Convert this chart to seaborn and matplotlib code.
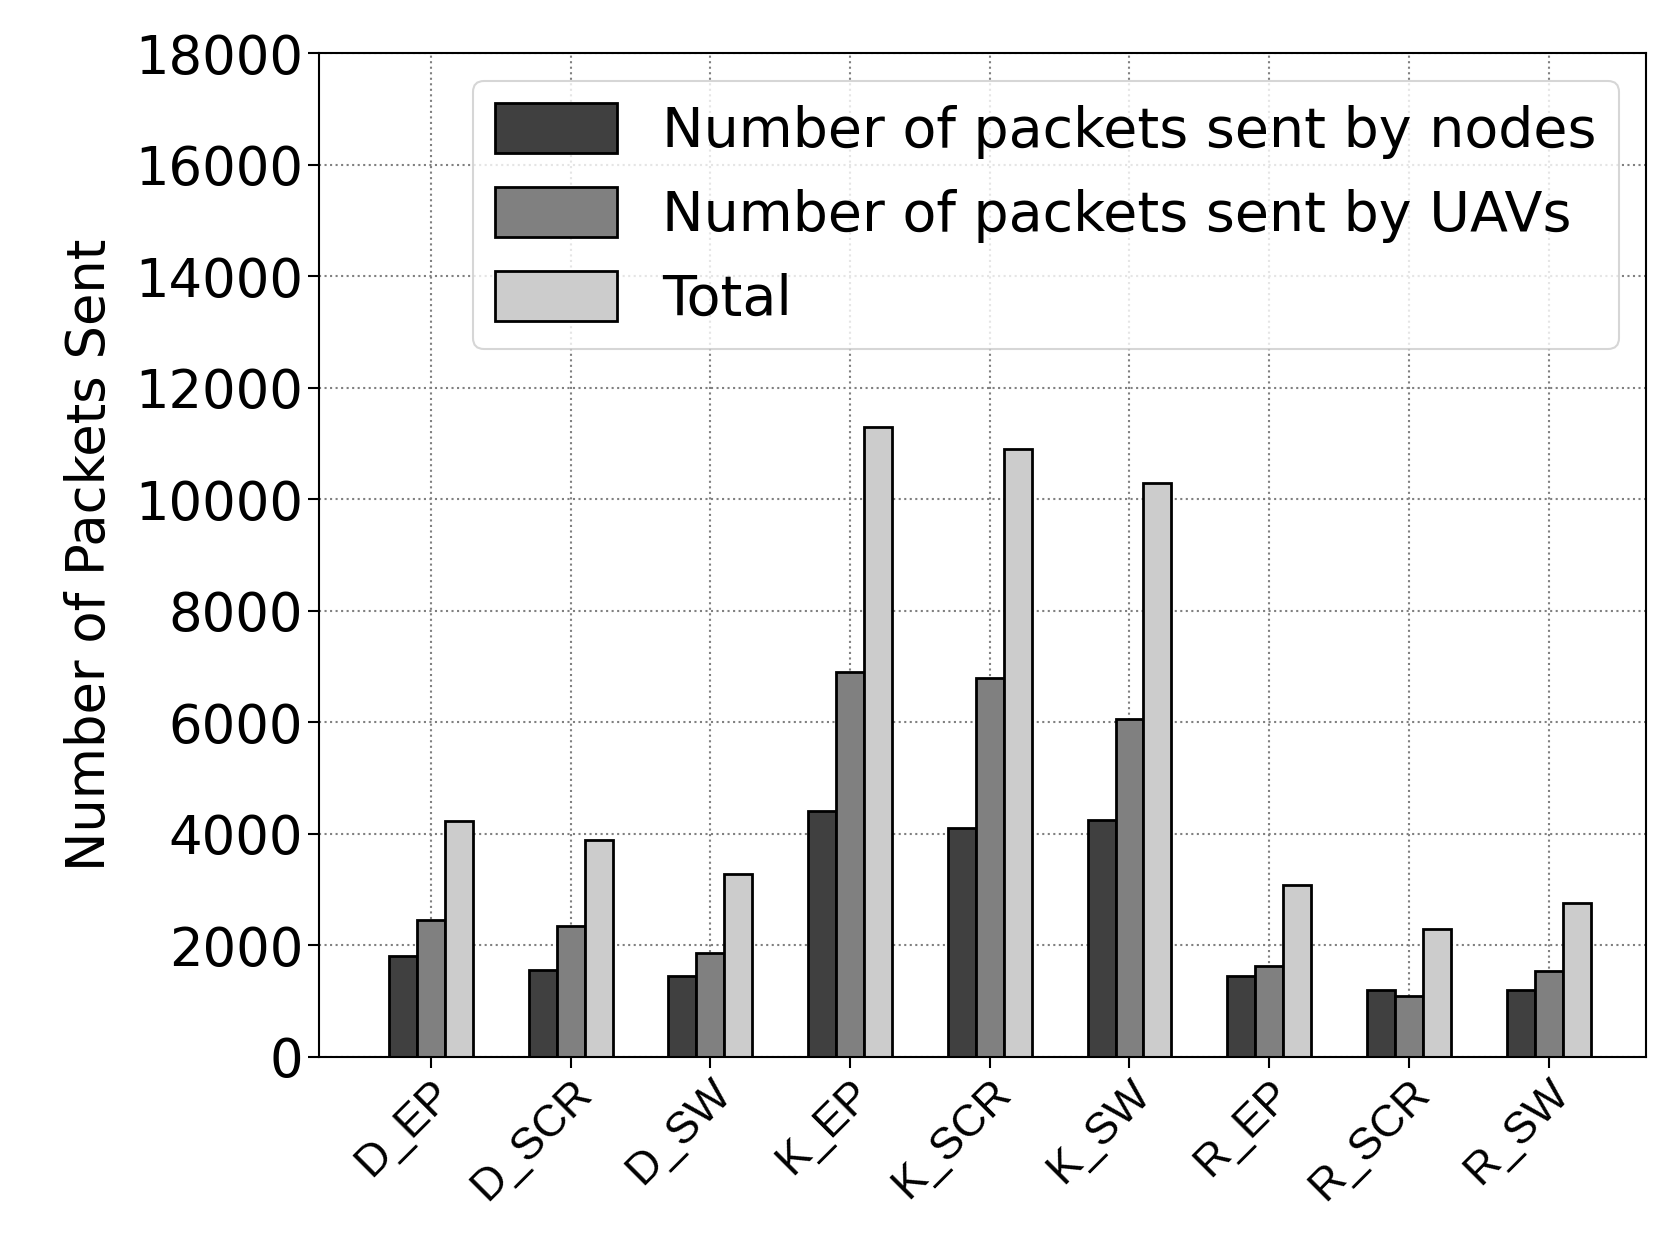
import pandas as pd
import matplotlib
matplotlib.use('Agg')
import matplotlib.pyplot as plt
import seaborn as sns

# Datos
categorias = ['D_EP', 'D_SCR', 'D_SW', 'K_EP', 'K_SCR', 'K_SW', 'R_EP', 'R_SCR', 'R_SW']
nodos = [1800, 1550, 1450, 4400, 4100, 4250, 1450, 1200, 1200]
uavs = [2450, 2350, 1850, 6900, 6800, 6050, 1620, 1080, 1530]
total = [4220, 3880, 3280, 11300, 10900, 10300, 3080, 2280, 2750]
series = ['Number of packets sent by nodes', 'Number of packets sent by UAVs', 'Total']

df = pd.DataFrame({'cat': categorias * 3,
                   'serie': [series[0]] * 9 + [series[1]] * 9 + [series[2]] * 9,
                   'valor': nodos + uavs + total})

sns.set_style('ticks')
plt.rcParams['font.family'] = ['DejaVu Sans']
plt.rcParams['text.color'] = 'black'
plt.rcParams['axes.labelcolor'] = 'black'
plt.rcParams['xtick.color'] = 'black'
plt.rcParams['ytick.color'] = 'black'

fig, ax = plt.subplots(figsize=(16.8, 12.43), dpi=100)
fig.subplots_adjust(left=0.19, right=0.98, top=0.957, bottom=0.15)

sns.barplot(data=df, x='cat', y='valor', hue='serie', ax=ax, width=0.6,
            palette=['#404040', '#808080', '#cccccc'], edgecolor='black',
            linewidth=2, saturation=1)

ax.set_ylim(0, 18000)
ax.set_yticks(range(0, 18001, 2000))
ax.set_xlim(-0.8, 8.7)
ax.grid(True, linestyle=':', color='gray', linewidth=1.5)
ax.set_axisbelow(True)
ax.set_xlabel('')
ax.set_ylabel('Number of Packets Sent', fontsize=38, labelpad=14)
ax.tick_params(axis='y', labelsize=38, width=1.5, length=8)
ax.tick_params(axis='x', width=1.5, length=8)
ax.set_xticks(range(len(categorias)))
ax.set_xticklabels(categorias, fontsize=32, family='Liberation Sans',
                   rotation=45, ha='right', rotation_mode='anchor')
for s in ax.spines.values():
    s.set_linewidth(1.5)
    s.set_color('black')

leg = ax.legend(loc='upper right', fontsize=40, handlelength=2.2, handleheight=1.0,
                frameon=True, borderaxespad=0.5, labelspacing=0.5)
leg.get_frame().set_edgecolor('#cccccc')
leg.get_frame().set_linewidth(1.5)

plt.savefig('out.png')
plt.close()
